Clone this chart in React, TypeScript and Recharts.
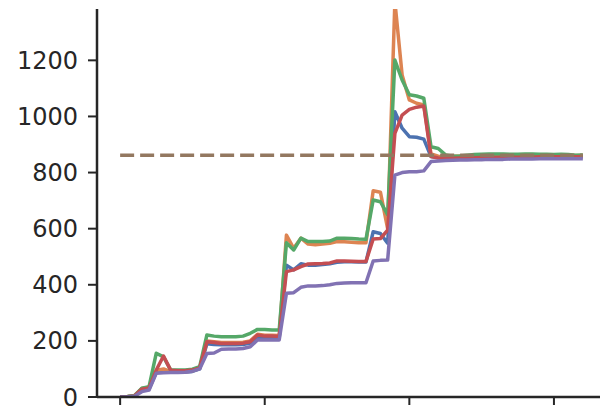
import { LineChart, Line, XAxis, YAxis, ReferenceLine } from 'recharts';

const blue = [
  0, 1, 3, 25, 28, 88, 92, 88, 89, 89, 91, 100,
  190, 187, 186, 186, 186, 187, 192, 214, 212, 212, 211,
  470, 453, 475, 470, 470, 472, 475, 480, 482, 482, 481, 481, 589, 583, 548,
  1017, 958, 928, 926, 919,
  857, 854, 853, 853, 854, 854, 855, 855, 855, 855, 856, 856, 856, 856, 856, 856, 857, 857, 857, 857, 857, 857,
];
const orange = [
  0, 2, 5, 30, 35, 95, 100, 90, 90, 90, 93, 103,
  200, 197, 194, 194, 194, 195, 200, 224, 220, 220, 219,
  577, 530, 566, 545, 543, 545, 548, 554, 553, 552, 550, 550, 735, 730, 600,
  1410, 1148, 1059, 1047, 1041,
  866, 858, 857, 858, 859, 860, 861, 861, 862, 862, 862, 862, 862, 862, 862, 862, 862, 862, 862, 861, 861, 861,
];
const green = [
  0, 2, 5, 31, 37, 156, 143, 96, 96, 96, 99, 108,
  221, 217, 215, 215, 215, 217, 227, 241, 241, 239, 239,
  550, 524, 566, 554, 554, 554, 556, 566, 566, 565, 563, 562, 702, 696, 650,
  1201, 1130, 1077, 1073, 1065,
  892, 886, 863, 858, 859, 862, 864, 865, 866, 866, 866, 865, 865, 866, 866, 865, 865, 864, 865, 864, 862, 863,
];
const red = [
  0, 1, 4, 28, 32, 96, 146, 95, 94, 94, 96, 104,
  197, 194, 191, 191, 191, 192, 197, 221, 217, 217, 216,
  447, 453, 465, 474, 475, 476, 478, 485, 485, 484, 483, 483, 563, 565, 595,
  940, 1005, 1025, 1033, 1037,
  857, 852, 851, 851, 852, 853, 853, 854, 854, 854, 855, 855, 855, 855, 855, 856, 856, 856, 856, 856, 856, 856,
];
const purple = [
  0, 1, 3, 19, 25, 85, 86, 87, 87, 88, 92, 100,
  155, 157, 170, 171, 171, 173, 179, 203, 203, 203, 203,
  370, 372, 391, 396, 396, 397, 400, 405, 406, 407, 407, 407, 485, 487, 488,
  791, 800, 803, 803, 806,
  839, 841, 843, 844, 845, 845, 846, 846, 847, 847, 847, 848, 848, 848, 848, 849, 849, 849, 849, 849, 849, 849,
];
const target = 862;
const xTicks = [0, 20, 40, 60];
const yTicks = [0, 200, 400, 600, 800, 1000, 1200];

const series = [
  { key: 'blue', values: blue, color: '#4C72B0' },
  { key: 'orange', values: orange, color: '#DD8452' },
  { key: 'green', values: green, color: '#55A868' },
  { key: 'red', values: red, color: '#C44E52' },
  { key: 'purple', values: purple, color: '#8172B3' },
];

const data = blue.map((_, i) => {
  const row: Record<string, number> = { i };
  series.forEach((s) => {
    row[s.key] = s.values[i];
  });
  return row;
});

const lastIdx = blue.length - 1;
const ink = '#262626';
const tickFont = { fontSize: 24, fill: ink, fontFamily: 'DejaVu Sans' };

export default function App() {
  return (
    <div
      style={{
        position: 'absolute',
        left: 0,
        top: 0,
        width: 600,
        height: 407,
        overflow: 'hidden',
        background: '#fff',
      }}
    >
      <LineChart
        width={640}
        height={450}
        data={data}
        margin={{ top: 9, right: 34, bottom: 13, left: 0 }}
      >
        {/* x labels sit below the visible frame, as in the cropped original */}
        <XAxis
          dataKey="i"
          type="number"
          domain={[-3.2, 67.2]}
          ticks={xTicks}
          tickSize={8}
          tickMargin={16}
          height={40}
          tick={tickFont}
          axisLine={{ stroke: ink, strokeWidth: 2.5 }}
          tickLine={{ stroke: ink, strokeWidth: 2 }}
        />
        <XAxis
          xAxisId="top"
          orientation="top"
          dataKey="i"
          type="number"
          domain={[-3.2, 67.2]}
          height={0}
          tick={false}
          tickLine={false}
          axisLine={{ stroke: ink, strokeWidth: 2.5 }}
        />
        <YAxis
          type="number"
          domain={[0, 1383]}
          allowDataOverflow
          ticks={yTicks}
          width={97}
          tickSize={9}
          tickMargin={10}
          tick={tickFont}
          axisLine={{ stroke: ink, strokeWidth: 2.5 }}
          tickLine={{ stroke: ink, strokeWidth: 2 }}
        />
        {series.map((s) => (
          <Line
            key={s.key}
            dataKey={s.key}
            type="linear"
            stroke={s.color}
            strokeWidth={3.5}
            strokeLinejoin="round"
            dot={false}
            activeDot={false}
            isAnimationActive={false}
          />
        ))}
        <ReferenceLine
          segment={[
            { x: 0, y: target },
            { x: lastIdx, y: target },
          ]}
          stroke="#937860"
          strokeWidth={3.5}
          strokeDasharray="14 6"
        />
      </LineChart>
    </div>
  );
}
